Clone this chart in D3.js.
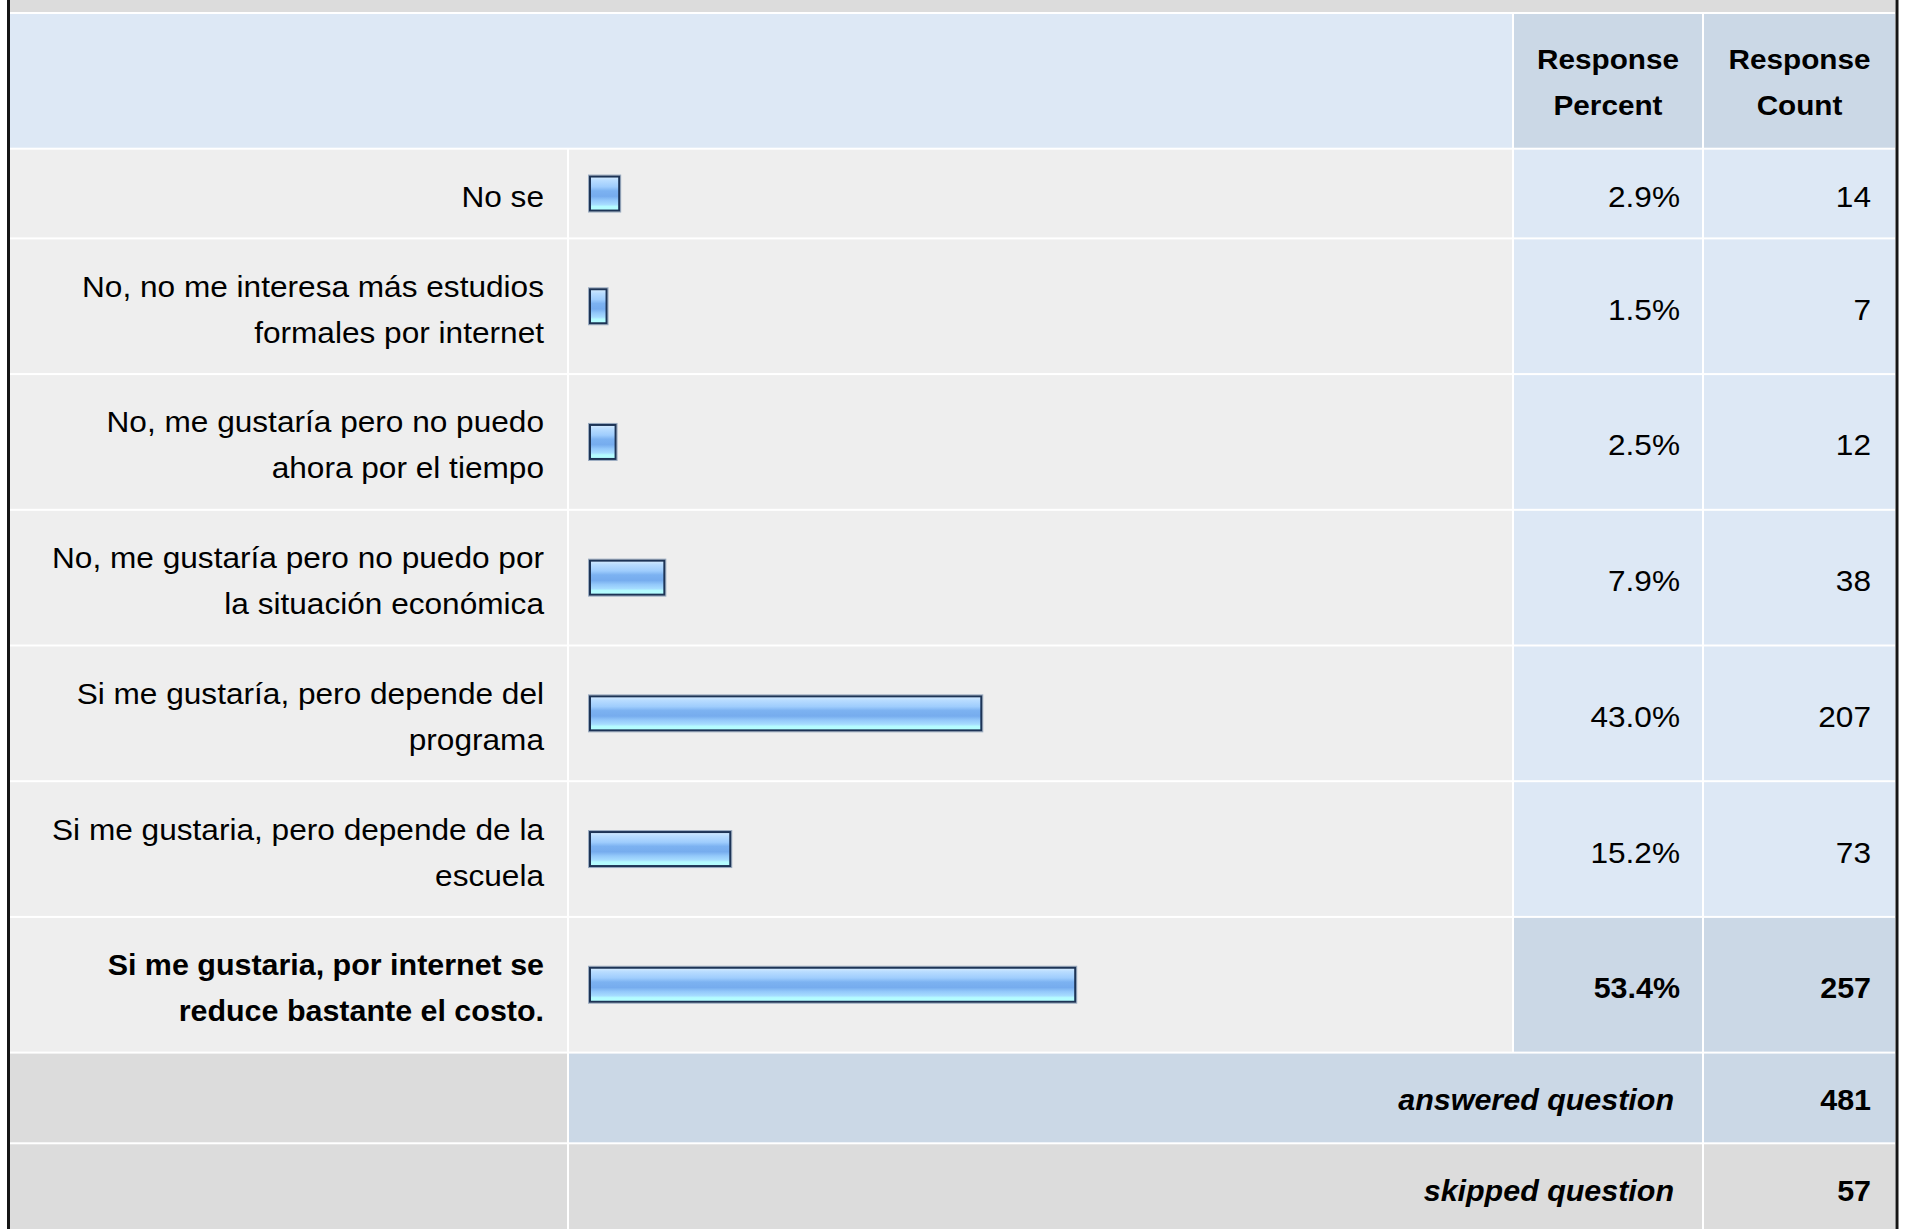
<!DOCTYPE html>
<html>
<head>
<meta charset="utf-8">
<script src="https://cdn.jsdelivr.net/npm/d3@7"></script>
<style>
  body { margin: 0; background: #fff; }
  svg { display: block; }
  text { font-family: "Liberation Sans", Arial, Helvetica, sans-serif; fill: #000; }
</style>
</head>
<body>
<div class="chart"></div>
<script>
// answer options (one entry per printed line)
var answerLabels = [
  ["No se"],
  ["No, no me interesa más estudios", "formales por internet"],
  ["No, me gustaría pero no puedo", "ahora por el tiempo"],
  ["No, me gustaría pero no puedo por", "la situación económica"],
  ["Si me gustaría, pero depende del", "programa"],
  ["Si me gustaria, pero depende de la", "escuela"],
  ["Si me gustaria, por internet se", "reduce bastante el costo."]
];

// series values
var responsePercent = [2.9, 1.5, 2.5, 7.9, 43.0, 15.2, 53.4];
var responseCount = [14, 7, 12, 38, 207, 73, 257];

// header and footer texts
var headerLabels = [["Response", "Percent"], ["Response", "Count"]];
var footerLabels = ["answered question", "skipped question"];
var footerCounts = [481, 57];

// svg container
var svgWidth = 1909;
var svgHeight = 1229;

// column edges
var col = {
  label: [10, 567],
  bar: [569, 1512],
  pct: [1514, 1702],
  cnt: [1704, 1895]
};
var gap = 2;
var lineH = 46;

// colors
var lightBg = "#eeeeee";
var greyBg = "#dcdcdc";
var paleBlue = "#dde8f5";
var midBlue = "#cbd8e6";

function rowHeight(lines) {
  return lineH * lines + 41.7;
}

var svg = d3.select(".chart")
  .append("svg")
  .attr("width", svgWidth)
  .attr("height", svgHeight);

// bar gradient
var grad = svg.append("defs").append("linearGradient")
  .attr("id", "barGrad")
  .attr("x1", 0).attr("y1", 0).attr("x2", 0).attr("y2", 1);
[["0%", "#d6ecff"], ["12%", "#b8dcff"], ["30%", "#9fcdfd"], ["42%", "#7cb2f1"],
 ["58%", "#76acee"], ["70%", "#93c8fa"], ["82%", "#a6dcff"], ["88%", "#b4fbff"], ["100%", "#b4ffff"]]
  .forEach(function(s) {
    grad.append("stop").attr("offset", s[0]).attr("stop-color", s[1]);
  });

// top grey band
svg.append("rect")
  .attr("x", col.label[0]).attr("y", 0)
  .attr("width", col.cnt[1] - col.label[0]).attr("height", 12)
  .attr("fill", greyBg);

function cell(x0, x1, y, h, fill) {
  svg.append("rect")
    .attr("x", x0).attr("y", y)
    .attr("width", x1 - x0).attr("height", h)
    .attr("fill", fill);
}

function addText(str, x, y, opts) {
  opts = opts || {};
  // the source picture is a little stretched sideways
  var sx = opts.sx || (opts.bold ? 1.05 : 1.09);
  svg.append("text")
    .attr("transform", `translate(${x},${y}) scale(${sx},1)`)
    .attr("text-anchor", opts.anchor || "end")
    .style("font-size", (opts.size || 29) + "px")
    .style("font-weight", opts.bold ? "bold" : "normal")
    .style("font-style", opts.italic ? "italic" : "normal")
    .text(str);
}

// header row
var y = 14;
var hh = rowHeight(2);
cell(col.label[0], col.bar[1], y, hh, paleBlue);
cell(col.pct[0], col.pct[1], y, hh, midBlue);
cell(col.cnt[0], col.cnt[1], y, hh, midBlue);
var hc = y + hh / 2;
[col.pct, col.cnt].forEach(function(c, i) {
  headerLabels[i].forEach(function(t, k) {
    addText(t, (c[0] + c[1]) / 2, hc - lineH / 2 + 11 + k * lineH, { anchor: "middle", bold: true, size: 27, sx: 1.1 });
  });
});
y += hh + gap;

// bar scale
var xScale = d3.scaleLinear().domain([0, 100]).range([0, 903]);
var maxPct = d3.max(responsePercent);

// answer rows
answerLabels.forEach(function(lines, i) {
  var h = rowHeight(lines.length);
  var top = responsePercent[i] === maxPct;
  cell(col.label[0], col.label[1], y, h, lightBg);
  cell(col.bar[0], col.bar[1], y, h, lightBg);
  cell(col.pct[0], col.pct[1], y, h, top ? midBlue : paleBlue);
  cell(col.cnt[0], col.cnt[1], y, h, top ? midBlue : paleBlue);

  var c = y + h / 2;
  var first = c - (lines.length - 1) * lineH / 2 + 13.5;
  lines.forEach(function(t, k) {
    addText(t, 544, first + k * lineH, { bold: top });
  });

  // halo + bar
  svg.append("rect")
    .attr("x", 588.5).attr("y", c - 18.5)
    .attr("width", xScale(responsePercent[i]) + 6).attr("height", 37)
    .attr("fill", "none")
    .attr("stroke", "#9aabc0")
    .attr("stroke-width", 1);
  svg.append("rect")
    .attr("x", 590).attr("y", c - 17)
    .attr("width", xScale(responsePercent[i]) + 3).attr("height", 34)
    .attr("fill", "url(#barGrad)")
    .attr("stroke", "#1d3456")
    .attr("stroke-width", 2);

  addText(responsePercent[i].toFixed(1) + "%", 1680, c + 13.5, { bold: top });
  addText(responseCount[i], 1871, c + 13.5, { bold: top });

  y += h + gap;
});

// footer rows
footerLabels.forEach(function(t, i) {
  var h = rowHeight(1) + 1;
  var fill = i === 0 ? midBlue : greyBg;
  cell(col.label[0], col.label[1], y, h, greyBg);
  cell(col.bar[0], col.pct[1], y, h, fill);
  cell(col.cnt[0], col.cnt[1], y, h, fill);
  var c = y + h / 2;
  addText(t, 1674, c + 12, { bold: true, italic: true });
  addText(footerCounts[i], 1871, c + 12, { bold: true });
  y += h + gap;
});

// side borders
svg.append("rect").attr("x", 7).attr("y", 0).attr("width", 3).attr("height", svgHeight).attr("fill", "#151515");
svg.append("rect").attr("x", 1895.5).attr("y", 0).attr("width", 3).attr("height", svgHeight).attr("fill", "#151515");
</script>
</body>
</html>
